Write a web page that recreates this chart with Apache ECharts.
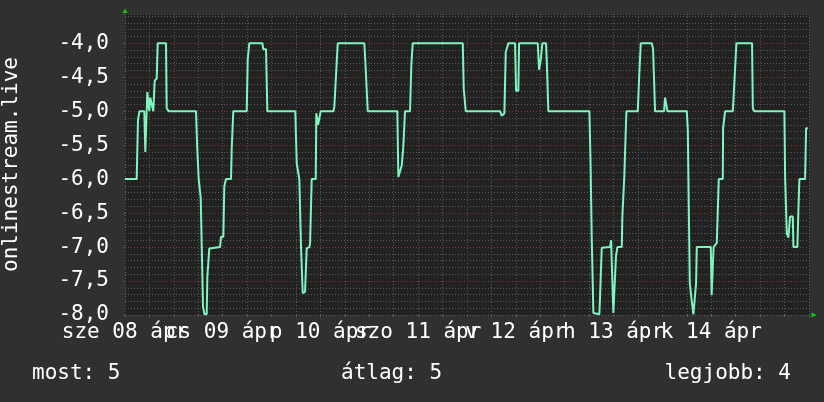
<!DOCTYPE html>
<html>
<head>
<meta charset="utf-8">
<script src="https://cdn.jsdelivr.net/npm/echarts@6/dist/echarts.min.js"></script>
<style>
  html, body { margin: 0; padding: 0; background: #303030; }
  #chart { width: 824px; height: 402px; }
</style>
</head>
<body>
<div id="chart"></div>
<script>
// hours since the left edge of the graph (one week = 168 h)
const hours = [
  0, 2.87, 3.19, 3.56, 4.74, 4.99, 5.28, 5.48, 5.77, 5.97, 6.21, 6.63, 6.95, 7.30, 7.79, 8.03,
  10.07, 10.24, 10.73, 17.44, 17.76, 18.10, 18.35, 18.60, 18.84, 19.16, 19.53, 20.07, 20.22, 20.46,
  20.71, 23.34, 23.58, 24.15, 24.39, 24.81, 26.04, 26.21, 26.36, 26.60, 29.90, 30.14, 30.39, 30.53,
  33.73, 33.97, 34.64, 34.96, 41.83, 42.18, 42.42, 42.82, 43.06, 43.23, 43.65, 44.22, 44.63, 45.27,
  45.45, 45.69, 45.86, 46.85, 46.99, 47.16, 47.41, 47.73, 48.07, 51.17, 51.41, 51.83, 52.25, 58.78,
  59.03, 59.37, 59.62, 66.89, 67.14, 67.55, 67.97, 68.36, 68.54, 68.78, 70.01, 70.33, 70.50, 70.67,
  82.96, 83.20, 83.45, 83.69, 92.12, 92.54, 93.03, 93.18, 93.52, 93.84, 94.16, 95.80, 96.05, 96.61,
  96.79, 101.38, 101.70, 101.94, 102.12, 102.51, 103.42, 103.66, 103.98, 114.06, 114.35, 114.64,
  115.04, 115.46, 116.51, 116.68, 116.93, 117.10, 119.14, 119.39, 119.80, 119.95, 120.44, 120.59,
  120.93, 122.01, 122.16, 122.41, 122.65, 123.00, 123.15, 125.95, 126.26, 126.44, 126.68, 129.38,
  129.70, 130.02, 130.19, 132.41, 132.65, 132.97, 133.22, 137.98, 138.23, 138.47, 138.72, 138.97,
  139.21, 139.60, 140.02, 140.27, 140.44, 143.88, 144.08, 144.44, 144.57, 145.35, 145.67, 145.84,
  146.83, 146.90, 147.22, 147.39, 149.28, 149.43, 149.92, 150.17, 154.02, 154.20, 154.59, 161.96,
  162.13, 162.30, 162.55, 162.94, 163.36, 164.02, 164.17, 165.15, 165.40, 165.64, 167.04, 167.29,
  167.71
];
const values = [
  -6.0, -6.0, -5.13, -5.0, -5.0, -5.6, -5.6, -4.72, -4.72, -5.0, -4.8, -4.8, -5.0, -4.55, -4.52, -4.0,
  -4.0, -4.96, -5.0, -5.0, -5.57, -6.0, -6.0, -6.28, -6.28, -7.88, -7.99, -7.99, -7.44, -7.44,
  -7.02, -7.0, -6.85, -6.85, -6.11, -6.0, -6.0, -5.55, -5.55, -5.0, -5.0, -4.24, -4.24, -4.0,
  -4.0, -4.09, -4.09, -5.0, -5.0, -5.77, -5.77, -6.0, -6.0, -7.0, -7.68, -7.66, -7.02, -7.0,
  -6.95, -6.95, -6.0, -6.0, -5.03, -5.03, -5.2, -5.2, -5.0, -5.0, -4.94, -4.94, -4.0, -4.0,
  -4.27, -4.27, -5.0, -5.0, -5.97, -5.97, -5.8, -5.52, -5.52, -5.0, -5.0, -4.32, -4.32, -4.0,
  -4.0, -4.67, -4.67, -5.0, -5.0, -5.07, -5.07, -5.03, -4.13, -4.13, -4.0, -4.0, -4.7, -4.7,
  -4.0, -4.0, -4.39, -4.39, -4.24, -4.0, -4.0, -4.37, -5.0, -5.0, -5.76, -6.87,
  -7.97, -7.99, -7.99, -7.73, -7.73, -7.01, -7.0, -6.9, -6.9, -7.97, -7.97, -7.14,
  -7.0, -7.0, -6.55, -6.55, -5.94, -5.94, -5.0, -5.0, -4.53, -4.53, -4.0, -4.0,
  -4.08, -4.08, -5.0, -5.0, -4.8, -4.8, -5.0, -5.0, -5.27, -5.27, -7.53, -7.53,
  -7.8, -7.99, -7.99, -7.53, -7.0, -7.0, -7.71, -7.71, -7.0, -6.94, -6.94, -6.0,
  -6.0, -5.25, -5.25, -5.0, -5.0, -4.85, -4.85, -4.0, -4.0, -4.96, -5.0, -5.0,
  -5.96, -5.96, -6.8, -6.86, -6.55, -6.55, -7.0, -7.0, -6.45, -6.0, -6.0, -5.25,
  -5.25
];
// one label per day, every 24 h from the left edge
const dayLabels = ['sze 08 ápr', 'cs 09 ápr', 'p 10 ápr', 'szo 11 ápr', 'v 12 ápr', 'h 13 ápr', 'k 14 ápr'];
const legendTexts = ['most: 5', 'átlag: 5', 'legjobb: 4'];
const yTitle = 'onlinestream.live';

const FONT = 'DejaVu Sans Mono';
const GRID_COLOR = '#5a5a5a';
const MGRID_COLOR = '#7a3a3a';
const LINE_COLOR = '#7ff5c0';

const chart = echarts.init(document.getElementById('chart'));

const points = hours.map((h, i) => [h, values[i]]);

const isMultiple = (v, step) => Math.abs(v / step - Math.round(v / step)) < 1e-6;

chart.setOption({
  animation: false,
  backgroundColor: '#303030',
  grid: {
    left: 125,
    right: 15,
    top: 14,
    bottom: 87,
    show: true,
    backgroundColor: '#222222',
    borderWidth: 0,
    outerBoundsMode: 'none'
  },
  xAxis: [
    {
      type: 'value',
      min: 0,
      max: 168,
      interval: 6,
      axisLine: { show: false },
      axisTick: { show: true, length: 2, lineStyle: { color: GRID_COLOR } },
      // every 6 h a grey line, midnight (12 h after the left edge) in red
      splitLine: {
        show: true,
        lineStyle: { color: [GRID_COLOR, GRID_COLOR, MGRID_COLOR, GRID_COLOR], type: [1, 2], width: 1 }
      },
      axisLabel: {
        show: true,
        showMinLabel: true,
        hideOverlap: false,
        margin: 7,
        color: '#ffffff',
        fontFamily: FONT,
        fontSize: 21,
        formatter: (v) => (isMultiple(v, 24) ? dayLabels[Math.round(v / 24)] || '' : '')
      }
    }
  ],
  yAxis: [
    {
      type: 'value',
      min: -8,
      max: -3.57,
      interval: 0.1,
      axisLine: { show: false },
      axisTick: { show: false },
      axisLabel: { show: false },
      splitLine: { show: true, lineStyle: { color: GRID_COLOR, type: [1, 2], width: 1 } }
    },
    {
      type: 'value',
      position: 'left',
      min: -8,
      max: -3.57,
      interval: 0.5,
      axisLine: { show: false },
      axisTick: { show: true, length: 2, lineStyle: { color: MGRID_COLOR } },
      splitLine: {
        show: true,
        showMinLine: false,
        showMaxLine: false,
        lineStyle: { color: MGRID_COLOR, type: [1, 2], width: 1 }
      },
      axisLabel: {
        show: true,
        showMinLabel: true,
        margin: 16,
        color: '#ffffff',
        fontFamily: FONT,
        fontSize: 21,
        formatter: (v) => (isMultiple(v, 0.5) ? (Math.round(v * 2) / 2).toFixed(1).replace('.', ',') : '')
      }
    }
  ],
  series: [
    {
      type: 'line',
      xAxisIndex: 0,
      yAxisIndex: 0,
      data: points,
      showSymbol: false,
      clip: false,
      z: 5,
      lineStyle: { color: LINE_COLOR, width: 2 }
    }
  ],
  graphic: [
    {
      type: 'text',
      x: 12,
      y: 164.5,
      rotation: Math.PI / 2,
      style: { text: yTitle, fill: '#ffffff', font: '21px "DejaVu Sans Mono"', align: 'center', verticalAlign: 'middle' }
    },
    {
      type: 'text',
      x: 32,
      y: 374,
      style: { text: legendTexts[0], fill: '#ffffff', font: '21px "DejaVu Sans Mono"', align: 'left', verticalAlign: 'middle' }
    },
    {
      type: 'text',
      x: 341,
      y: 374,
      style: { text: legendTexts[1], fill: '#ffffff', font: '21px "DejaVu Sans Mono"', align: 'left', verticalAlign: 'middle' }
    },
    {
      type: 'text',
      x: 791,
      y: 374,
      style: { text: legendTexts[2], fill: '#ffffff', font: '21px "DejaVu Sans Mono"', align: 'right', verticalAlign: 'middle' }
    },
    // axis arrows
    {
      type: 'polygon',
      shape: { points: [[122.5, 13], [127.5, 13], [125, 8.5]] },
      style: { fill: '#00d000' }
    },
    {
      type: 'polygon',
      shape: { points: [[811.5, 312.5], [811.5, 317.5], [816.5, 315]] },
      style: { fill: '#00d000' }
    }
  ]
});
</script>
</body>
</html>
